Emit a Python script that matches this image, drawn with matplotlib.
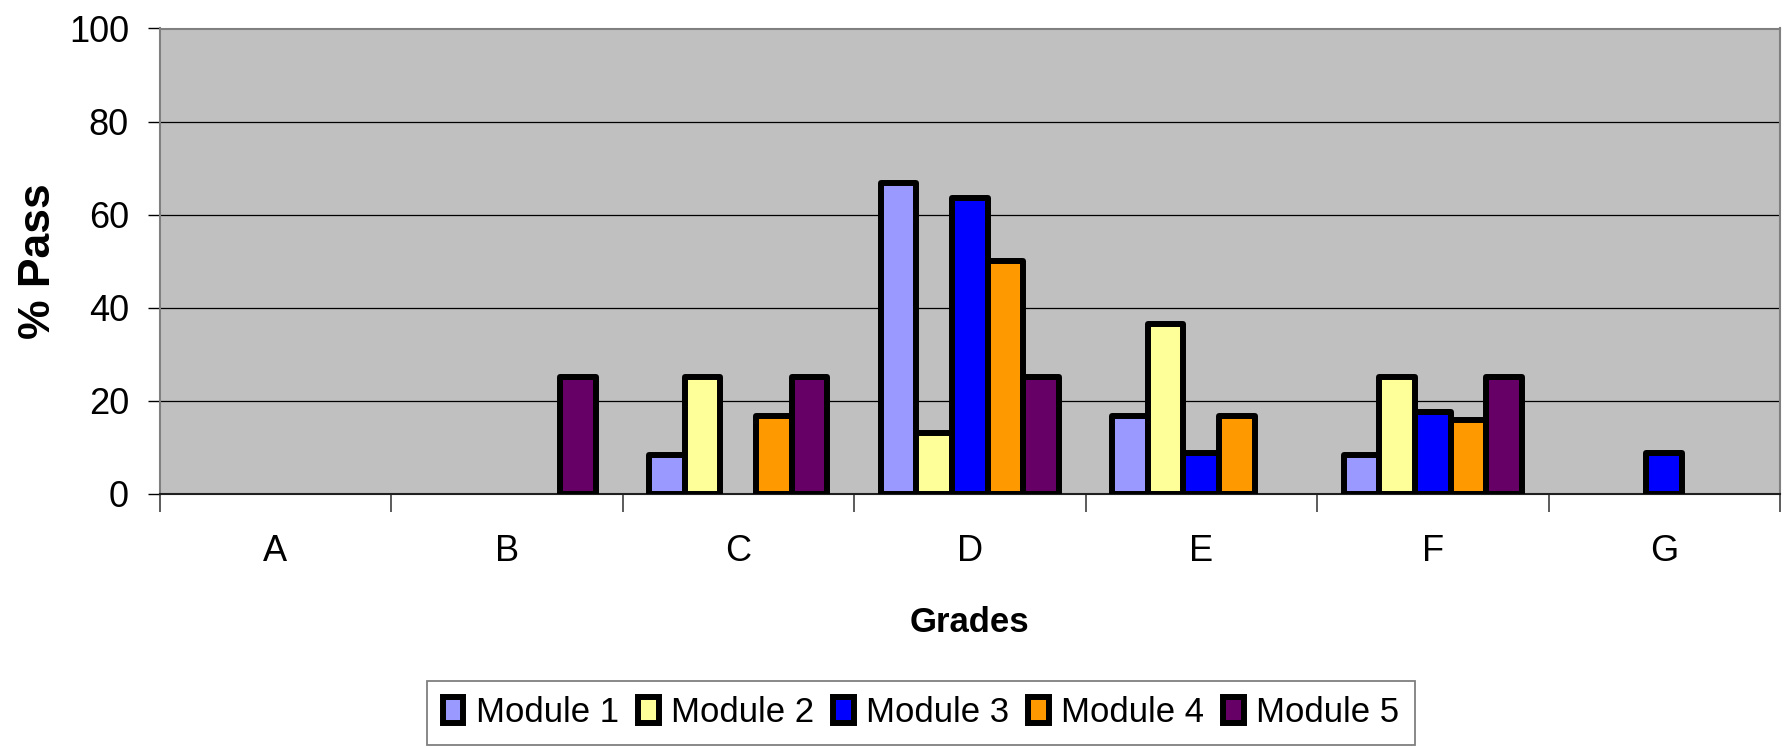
import matplotlib
matplotlib.use("Agg")
import matplotlib.pyplot as plt
import numpy as np

grades = ["A", "B", "C", "D", "E", "F", "G"]
series_names = ["Module 1", "Module 2", "Module 3", "Module 4", "Module 5"]
module1 = [0, 0, 8.3, 66.7, 16.7, 8.3, 0]
module2 = [0, 0, 25, 13.0, 36.4, 25, 0]
module3 = [0, 0, 0, 63.6, 8.8, 17.6, 8.8]
module4 = [0, 0, 16.7, 50, 16.7, 15.7, 0]
module5 = [0, 25, 25, 25, 0, 25, 0]
colors = ["#9999FF", "#FFFF99", "#0000FF", "#FF9900", "#660066"]

plt.rcParams['font.family'] = ['Liberation Sans', 'DejaVu Sans']

W, H = 1787, 748
fig = plt.figure(figsize=(W / 100, H / 100), dpi=100)
left, right, top, bottom = 159.5, 1780, 28.5, 493.5
ax = fig.add_axes([left / W, 1 - bottom / H, (right - left) / W, (bottom - top) / H])
ax.set_facecolor("#C0C0C0")

data = [module1, module2, module3, module4, module5]
n = len(grades)
x = np.arange(n) + 0.5
bw = 0.154
handles = []
for j, (vals, c, name) in enumerate(zip(data, colors, series_names)):
    v = np.array(vals, dtype=float)
    mask = v > 0
    b = ax.bar(x[mask] + (j - 2) * bw, v[mask], width=bw, color=c,
               edgecolor="black", linewidth=4.3, zorder=3, label=name,
               joinstyle="round")
    handles.append(b)

ax.set_xlim(0, n)
ax.set_ylim(0, 100)
ax.set_yticks([0, 20, 40, 60, 80, 100])
ax.yaxis.grid(True, color="black", linewidth=0.9, zorder=1)
ax.set_axisbelow(True)

ax.set_xticks(np.arange(n + 1))
ax.set_xticklabels([])
ax.set_xticks(x, minor=True)
ax.set_xticklabels(grades, minor=True)
ax.tick_params(axis="x", which="major", length=13, width=1.2, color="#404040", direction="out")
ax.tick_params(axis="x", which="minor", length=0, pad=29, labelsize=26)
ax.tick_params(axis="y", length=9, width=1.0, color="black", pad=13, labelsize=26)

for s in ["top", "right", "left"]:
    ax.spines[s].set_color("#808080")
    ax.spines[s].set_linewidth(1.5)
ax.spines["bottom"].set_color("#202020")
ax.spines["bottom"].set_linewidth(1.5)

ax.set_ylabel("% Pass", fontsize=32, fontweight="bold")
ax.yaxis.set_label_coords((38 - left) / (right - left), 0.5)
ax.yaxis.label.set_va("center")
ax.set_xlabel("Grades", fontsize=25, fontweight="bold")
ax.xaxis.set_label_coords(0.5, (bottom - 623) / (bottom - top))
ax.xaxis.label.set_va("center")

leg = fig.legend(handles=handles, labels=series_names, loc="upper left",
                 bbox_to_anchor=(427 / W, 1 - 680.5 / H), ncol=5, fontsize=25,
                 frameon=True, fancybox=False, borderpad=0.45, handlelength=0.6,
                 handleheight=0.8, handletextpad=0.35, columnspacing=0.55,
                 borderaxespad=0)
leg.get_frame().set_edgecolor("#606060")
leg.get_frame().set_linewidth(1.3)

fig.savefig("out.png", dpi=100)
